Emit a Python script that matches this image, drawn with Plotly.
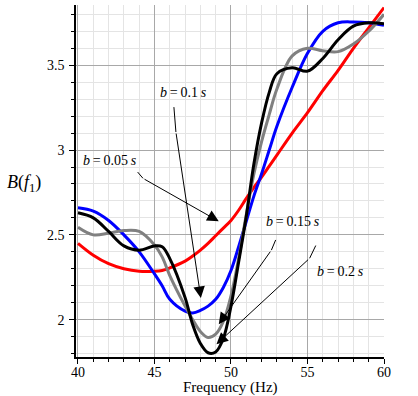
import plotly.graph_objects as go

# ---- data ----
freq = [40, 41, 42, 43, 44, 45, 45.5, 46, 47, 47.5, 48, 48.5, 49, 49.5, 50,
        50.5, 51, 51.5, 52, 52.5, 53, 54, 55, 56, 57, 58, 59, 60]
b_005 = [2.45, 2.38, 2.33, 2.30, 2.285, 2.285, 2.29, 2.305, 2.345, 2.375, 2.41,
         2.45, 2.495, 2.54, 2.585, 2.645, 2.715, 2.78, 2.84, 2.905, 2.97, 3.10,
         3.22, 3.35, 3.47, 3.60, 3.72, 3.84]
b_01 = [2.66, 2.64, 2.585, 2.50, 2.40, 2.27, 2.20, 2.12, 2.05, 2.04, 2.055,
        2.08, 2.12, 2.19, 2.29, 2.43, 2.58, 2.73, 2.86, 3.00, 3.14, 3.37, 3.57,
        3.70, 3.75, 3.755, 3.75, 3.735]
b_015 = [2.545, 2.50, 2.51, 2.525, 2.52, 2.44, 2.37, 2.26, 2.08, 2.0, 1.93,
         1.895, 1.915, 1.99, 2.14, 2.36, 2.62, 2.86, 3.05, 3.21, 3.36, 3.555,
         3.60, 3.585, 3.58, 3.625, 3.70, 3.80]
b_02 = [2.63, 2.60, 2.52, 2.435, 2.41, 2.435, 2.43, 2.36, 2.13, 1.97, 1.86,
        1.805, 1.81, 1.89, 2.08, 2.34, 2.61, 2.92, 3.16, 3.34, 3.45, 3.485,
        3.465, 3.54, 3.65, 3.73, 3.75, 3.745]

series = [("b = 0.05 s", b_005, "#ff0000"),
          ("b = 0.1 s", b_01, "#0000ff"),
          ("b = 0.15 s", b_015, "#808080"),
          ("b = 0.2 s", b_02, "#000000")]

TS = "\u2009"  # thin space
# label text, label position, leader start, kink, arrow tip (data coords)
labels = [
    (f"<i>b</i>{TS}={TS}0.05{TS}<i>s</i>", (42.09, 2.94), (43.9, 2.87), (44.25, 2.833), (49.2, 2.58)),
    (f"<i>b</i>{TS}={TS}0.1{TS}<i>s</i>", (46.92, 3.34), (46.27, 3.253), (46.4, 3.106), (48.03, 2.128)),
    (f"<i>b</i>{TS}={TS}0.15{TS}<i>s</i>", (54.05, 2.576), (52.92, 2.47), (52.64, 2.41), (49.2, 1.973)),
    (f"<i>b</i>{TS}={TS}0.2{TS}<i>s</i>", (57.15, 2.286), (55.54, 2.437), (55.14, 2.362), (49.05, 1.855)),
]

FONT = "Liberation Serif, Times New Roman, serif"

fig = go.Figure()
for name, ys, col in series:
    fig.add_trace(go.Scatter(x=freq, y=ys, mode="lines", name=name,
                             line=dict(color=col, width=3, shape="spline", smoothing=1.0),
                             showlegend=False, hoverinfo="skip"))

for txt, (lx, ly), (sx, sy), (kx, ky), (tx, ty) in labels:
    fig.add_annotation(x=lx, y=ly, xref="x", yref="y", text=txt, showarrow=False,
                       font=dict(family=FONT, size=14, color="black"))
    fig.add_shape(type="line", x0=sx, y0=sy, x1=kx, y1=ky, xref="x", yref="y",
                  line=dict(color="black", width=1))
    fig.add_annotation(x=tx, y=ty, ax=kx, ay=ky, xref="x", yref="y", axref="x", ayref="y",
                       text="", showarrow=True, arrowhead=2, arrowsize=2.3,
                       arrowwidth=1, arrowcolor="black", standoff=0)

fig.add_annotation(x=-0.168, y=0.494, xref="paper", yref="paper",
                   xanchor="center", yanchor="middle",
                   text="<i>B</i>(<i>f</i><sub>1</sub>)", showarrow=False,
                   font=dict(family=FONT, size=18, color="black"))
fig.add_annotation(x=0.5, y=-0.058, xref="paper", yref="paper",
                   xanchor="center", yanchor="top",
                   text="Frequency (Hz)", showarrow=False,
                   font=dict(family=FONT, size=15, color="black"))

fig.update_layout(
    width=418, height=396,
    margin=dict(l=76, r=34, t=5, b=39),
    paper_bgcolor="white", plot_bgcolor="white",
    font=dict(family=FONT, size=14, color="black"),
    xaxis=dict(range=[39.87, 60], tickmode="linear", tick0=40, dtick=5,
               automargin=False, ticklabelstandoff=-4,
               showgrid=True, gridcolor="#a8a8a8", gridwidth=1,
               showline=True, linecolor="black", linewidth=1.5,
               ticks="outside", ticklen=5, tickcolor="black",
               zeroline=False,
               minor=dict(dtick=1, showgrid=True, gridcolor="#e4e4e4",
                          ticks="outside", ticklen=3, tickcolor="black"),
               tickfont=dict(family=FONT, size=14)),
    yaxis=dict(range=[1.78, 3.855], tickmode="linear", tick0=2, dtick=0.5,
               automargin=False, ticklabelstandoff=2,
               showgrid=True, gridcolor="#a8a8a8", gridwidth=1,
               showline=True, linecolor="black", linewidth=1.5,
               ticks="outside", ticklen=5, tickcolor="black",
               zeroline=False,
               minor=dict(dtick=0.1, showgrid=True, gridcolor="#e4e4e4",
                          ticks="outside", ticklen=3, tickcolor="black"),
               tickfont=dict(family=FONT, size=14)),
)

fig.write_html("out.html", config={"displayModeBar": False},
               post_script="document.body.style.margin='0';document.body.style.overflow='hidden';")
